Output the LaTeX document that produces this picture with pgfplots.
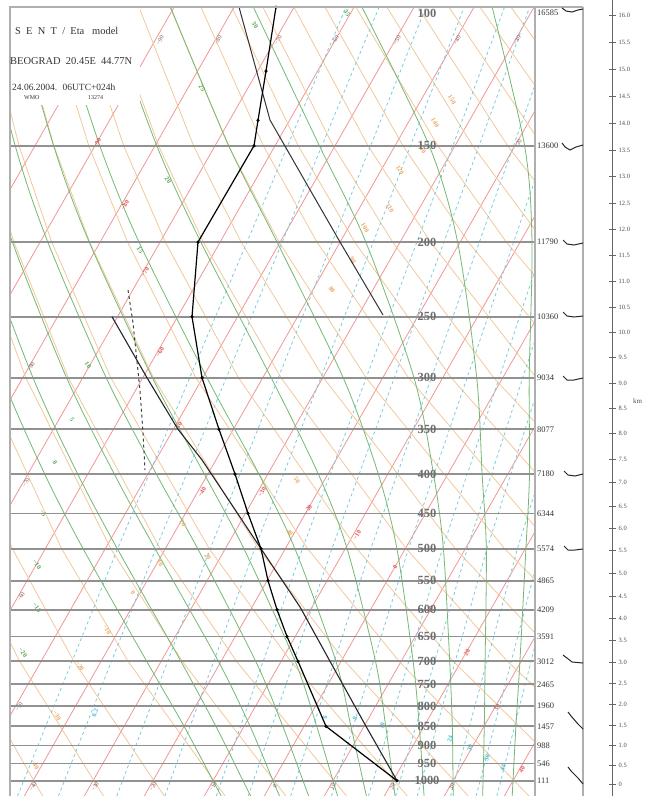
\documentclass[border=0pt]{standalone}
\usepackage{pgfplots}
\pgfplotsset{compat=1.18}
\usepackage{fontspec}
\setmainfont{Liberation Serif}
\definecolor{isoT}{RGB}{240,150,150}
\definecolor{dryA}{RGB}{242,200,155}
\definecolor{moistA}{RGB}{115,185,115}
\definecolor{mixR}{RGB}{120,205,220}
\definecolor{presL}{RGB}{145,145,145}
\definecolor{frameC}{RGB}{175,175,175}
\definecolor{labT}{RGB}{125,85,85}
\definecolor{labR}{RGB}{225,90,90}
\definecolor{labO}{RGB}{235,165,95}
\definecolor{labG}{RGB}{85,165,85}
\definecolor{labC}{RGB}{70,190,205}
\definecolor{labP}{RGB}{110,110,110}
\begin{document}
\begin{tikzpicture}
% ================= main diagram (x = pixel, y = pressure hPa) =================
\begin{axis}[at={(10bp,0bp)}, anchor=south west, scale only axis,
  width=525bp, height=789bp, xmin=10, xmax=535,
  ymode=log, ymin=99.1, ymax=1046.8, y dir=reverse,
  axis lines=none, unbounded coords=jump, clip=true]
% isotherms (every 10 C)
\addplot[isoT, line width=0.8bp] coordinates {
(-395.7,1046.8) (54.1,99.1) (0,nan)
(-335.7,1046.8) (114.1,99.1) (0,nan)
(-275.7,1046.8) (174.1,99.1) (0,nan)
(-215.7,1046.8) (234.1,99.1) (0,nan)
(-155.7,1046.8) (294.1,99.1) (0,nan)
(-95.7,1046.8) (354.1,99.1) (0,nan)
(-35.7,1046.8) (414.1,99.1) (0,nan)
(24.3,1046.8) (474.1,99.1) (0,nan)
(84.3,1046.8) (534.1,99.1) (0,nan)
(144.3,1046.8) (594.1,99.1) (0,nan)
(204.3,1046.8) (654.1,99.1) (0,nan)
(264.3,1046.8) (714.1,99.1) (0,nan)
(324.3,1046.8) (774.1,99.1) (0,nan)
(384.3,1046.8) (834.1,99.1) (0,nan)
(444.3,1046.8) (894.1,99.1) (0,nan)
(504.3,1046.8) (954.1,99.1)};
% dry adiabats
\addplot[dryA, line width=0.8bp] coordinates {
(42.7,1046.8) (-34.5,700) (-86.1,500) (-144.4,300) (-175.6,200) (-190.4,150) (-202.1,99.1) (0,nan)
(103.5,1046.8) (19.7,700) (-36.8,500) (-101.9,300) (-137.7,200) (-155.5,150) (-171.1,99.1) (0,nan)
(164.3,1046.8) (73.9,700) (12.4,500) (-59.3,300) (-99.8,200) (-120.6,150) (-140.1,99.1) (0,nan)
(225.1,1046.8) (128.1,700) (61.6,500) (-16.8,300) (-62.0,200) (-85.6,150) (-109.1,99.1) (0,nan)
(285.9,1046.8) (182.3,700) (110.8,500) (25.8,300) (-24.1,200) (-50.7,150) (-78.1,99.1) (0,nan)
(346.6,1046.8) (236.5,700) (160.1,500) (68.3,300) (13.8,200) (-15.9,150) (-47.1,99.1) (0,nan)
(407.4,1046.8) (290.7,700) (209.3,500) (110.8,300) (51.7,200) (19.0,150) (-16.1,99.1) (0,nan)
(468.2,1046.8) (344.9,700) (258.5,500) (153.4,300) (89.6,200) (53.9,150) (14.9,99.1) (0,nan)
(529.0,1046.8) (399.1,700) (307.7,500) (195.9,300) (127.5,200) (88.8,150) (45.9,99.1) (0,nan)
(589.8,1046.8) (453.3,700) (356.9,500) (238.5,300) (165.3,200) (123.7,150) (76.9,99.1) (0,nan)
(650.6,1046.8) (507.5,700) (406.2,500) (281.0,300) (203.2,200) (158.6,150) (107.9,99.1) (0,nan)
(711.4,1046.8) (561.6,700) (455.4,500) (323.5,300) (241.1,200) (193.5,150) (138.9,99.1) (0,nan)
(772.2,1046.8) (615.8,700) (504.6,500) (366.1,300) (279.0,200) (228.4,150) (169.9,99.1) (0,nan)
(833.0,1046.8) (670.0,700) (553.8,500) (408.6,300) (316.9,200) (263.3,150) (200.9,99.1) (0,nan)
(893.8,1046.8) (724.2,700) (603.0,500) (451.2,300) (354.7,200) (298.2,150) (231.9,99.1) (0,nan)
(954.5,1046.8) (778.4,700) (652.3,500) (493.7,300) (392.6,200) (333.1,150) (262.9,99.1) (0,nan)
(1015.3,1046.8) (832.6,700) (701.5,500) (536.2,300) (430.5,200) (368.0,150) (293.9,99.1) (0,nan)
(1076.1,1046.8) (886.8,700) (750.7,500) (578.8,300) (468.4,200) (402.9,150) (324.9,99.1) (0,nan)
(1136.9,1046.8) (941.0,700) (799.9,500) (621.3,300) (506.3,200) (437.8,150) (355.9,99.1) (0,nan)
(1197.7,1046.8) (995.2,700) (849.1,500) (663.9,300) (544.1,200) (472.7,150) (386.9,99.1) (0,nan)
(1258.5,1046.8) (1049.4,700) (898.4,500) (706.4,300) (582.0,200) (507.6,150) (417.9,99.1) (0,nan)
(1319.3,1046.8) (1103.6,700) (947.6,500) (748.9,300) (619.9,200) (542.5,150) (448.9,99.1) (0,nan)
(1380.1,1046.8) (1157.7,700) (996.8,500) (791.5,300) (657.8,200) (577.3,150) (479.9,99.1) (0,nan)
(1440.9,1046.8) (1211.9,700) (1046.0,500) (834.0,300) (695.6,200) (612.2,150) (510.9,99.1)};
% mixing ratio lines
\addplot[mixR, line width=0.8bp, dashed] coordinates {
(17.5,1046.8) (117.6,500) (346.1,99.1) (0,nan)
(58.4,1046.8) (155.8,500) (379.1,99.1) (0,nan)
(116.8,1046.8) (210.2,500) (425.9,99.1) (0,nan)
(164.8,1046.8) (254.7,500) (464.1,99.1) (0,nan)
(216.3,1046.8) (302.4,500) (504.6,99.1) (0,nan)
(248.3,1046.8) (331.9,500) (529.7,99.1) (0,nan)
(290.6,1046.8) (370.8,500) (562.6,99.1) (0,nan)
(331.5,1046.8) (408.5,500) (594.2,99.1) (0,nan)
(368.5,1046.8) (442.4,500) (622.6,99.1) (0,nan)
(395.6,1046.8) (467.2,500) (643.3,99.1) (0,nan)
(417.2,1046.8) (487.0,500) (659.7,99.1) (0,nan)
(450.6,1046.8) (517.4,500) (685.0,99.1) (0,nan)
(476.1,1046.8) (540.7,500) (704.3,99.1) (0,nan)
(496.9,1046.8) (559.5,500) (719.8,99.1)};
% moist adiabats
\addplot[moistA, line width=0.8bp, smooth] coordinates {
(221.2,1046.8) (213.0,1000) (184.1,850) (146.7,700) (83.1,500) (44.7,400) (2.4,300) (-45.2,200) (-70.1,150) (-95.3,99.1)};
\addplot[moistA, line width=0.8bp, smooth] coordinates {
(250.7,1046.8) (243.0,1000) (215.9,850) (180.9,700) (117.3,500) (77.7,400) (33.0,300) (-17.6,200) (-45.1,150) (-73.1,99.1)};
\addplot[moistA, line width=0.8bp, smooth] coordinates {
(279.5,1046.8) (273.0,1000) (250.1,850) (218.4,700) (155.1,500) (114.3,400) (66.6,300) (12.4,200) (-17.3,150) (-47.9,99.1)};
\addplot[moistA, line width=0.8bp, smooth] coordinates {
(308.7,1046.8) (303.0,1000) (282.8,850) (255.7,700) (197.7,500) (156.3,400) (106.2,300) (47.8,200) (15.2,150) (-19.1,99.1)};
\addplot[moistA, line width=0.8bp, smooth] coordinates {
(337.6,1046.8) (333.0,1000) (316.7,850) (295.1,700) (243.9,500) (204.3,400) (152.4,300) (89.2,200) (53.6,150) (14.5,99.1)};
\addplot[moistA, line width=0.8bp, smooth] coordinates {
(366.4,1046.8) (363.0,1000) (350.9,850) (335.9,700) (294.9,500) (258.9,400) (207.0,300) (139.0,200) (99.8,150) (55.3,99.1)};
\addplot[moistA, line width=0.8bp, smooth] coordinates {
(395.1,1046.8) (393.0,1000) (385.7,850) (375.5,700) (347.1,500) (318.3,400) (271.2,300) (200.8,200) (156.8,150) (106.3,99.1)};
\addplot[moistA, line width=0.8bp, smooth] coordinates {
(424.1,1046.8) (423.0,1000) (419.3,850) (413.1,700) (396.9,500) (378.3,400) (343.2,300) (277.0,200) (228.8,150) (170.5,99.1)};
\addplot[moistA, line width=0.8bp, smooth] coordinates {
(453.3,1046.8) (453.0,1000) (452.3,850) (449.7,700) (443.4,500) (433.5,400) (414.0,300) (365.8,200) (319.4,150) (253.3,99.1)};
\addplot[moistA, line width=0.8bp, smooth] coordinates {
(482.7,1046.8) (483.0,1000) (484.3,850) (485.1,700) (486.3,500) (482.1,400) (476.7,300) (457.6,200) (429.2,150) (361.9,99.1)};
\addplot[moistA, line width=0.8bp, smooth] coordinates {
(512.2,1046.8) (513.0,1000) (515.9,850) (519.9,700) (525.9,500) (529.5,400) (529.2,300) (532.0,200) (524.6,150) (492.1,99.1)};
% line labels: isotherms
\begin{scope}[every node/.style={rotate=60, text=labT, font=\fontsize{6}{6}\selectfont, inner sep=0bp}]
\node at (axis cs:160,109.4) {−90};
\node at (axis cs:218,109.4) {−80};
\node at (axis cs:278,109.4) {−70};
\node at (axis cs:335,109.4) {−60};
\node at (axis cs:397,109.4) {−50};
\node at (axis cs:457,109.4) {−40};
\node at (axis cs:517,109.4) {−30};
\node at (axis cs:518,149) {−20};
\node at (axis cs:31,290.4) {−80};
\node at (axis cs:26,410.7) {−70};
\node at (axis cs:21,577) {−60};
\node at (axis cs:19,801.7) {−50};
\node at (axis cs:33,1018) {−40};
\node at (axis cs:95,1018) {−30};
\node at (axis cs:153,1018) {−20};
\node at (axis cs:213,1018) {−10};
\node at (axis cs:275,1018) {0};
\node at (axis cs:333,1018) {10};
\node at (axis cs:393,1018) {20};
\node at (axis cs:452,1018) {30};
\end{scope}
\begin{scope}[every node/.style={rotate=60, text=labR, font=\fontsize{6.5}{6.5}\bfseries\selectfont, inner sep=0bp}]
\node at (axis cs:97,148.8) {−90};
\node at (axis cs:125,179) {−80};
\node at (axis cs:145,218.7) {−70};
\node at (axis cs:160,277.7) {−60};
\node at (axis cs:178,347.5) {−50};
\node at (axis cs:202,422) {−40};
\node at (axis cs:262,422) {−30};
\node at (axis cs:308,445) {−20};
\node at (axis cs:357,480) {−10};
\node at (axis cs:395,528) {0};
\node at (axis cs:430,600) {10};
\node at (axis cs:467,682) {20};
\node at (axis cs:497,804) {30};
\node at (axis cs:522,968) {40};
\end{scope}
% line labels: dry adiabats
\begin{scope}[every node/.style={rotate=-58, text=labO, font=\fontsize{6.5}{6.5}\bfseries\selectfont, inner sep=0bp}]
\node at (axis cs:452,130.8) {150};
\node at (axis cs:435,140.1) {140};
\node at (axis cs:422,151.3) {130};
\node at (axis cs:400,161.3) {120};
\node at (axis cs:390,180.7) {110};
\node at (axis cs:365,191.8) {100};
\node at (axis cs:353,211.1) {90};
\node at (axis cs:332,230.7) {80};
\node at (axis cs:297,407.1) {50};
\node at (axis cs:290,476.8) {40};
\node at (axis cs:183,463.5) {20};
\node at (axis cs:208,512.3) {20};
\node at (axis cs:160,522.1) {10};
\node at (axis cs:133,570.6) {0};
\node at (axis cs:107,636.4) {−10};
\node at (axis cs:80,710.3) {−20};
\node at (axis cs:57,822.7) {−30};
\node at (axis cs:35,954) {−40};
\end{scope}
% line labels: moist adiabats
\begin{scope}[every node/.style={rotate=-55, text=labG, font=\fontsize{6.5}{6.5}\bfseries\selectfont, inner sep=0bp}]
\node at (axis cs:347,100.9) {35};
\node at (axis cs:255,104.6) {30};
\node at (axis cs:202,126.2) {25};
\node at (axis cs:168,166.2) {20};
\node at (axis cs:140,204.7) {15};
\node at (axis cs:88,288.8) {10};
\node at (axis cs:72,340.3) {5};
\node at (axis cs:55,386.9) {0};
\node at (axis cs:43,449.2) {−5};
\node at (axis cs:37,524.7) {−10};
\node at (axis cs:37,596.6) {−15};
\node at (axis cs:23,682.4) {−20};
\end{scope}
% line labels: mixing ratio
\begin{scope}[every node/.style={rotate=75, text=labC, font=\fontsize{6.5}{6.5}\bfseries\selectfont, inner sep=0bp}]
\node at (axis cs:95,816.7) {0.2};
\node at (axis cs:325,828.6) {6};
\node at (axis cs:355,831.1) {8};
\node at (axis cs:382,848.6) {10};
\node at (axis cs:450,882.5) {24};
\node at (axis cs:470,906.5) {30};
\node at (axis cs:487,934.1) {36};
\node at (axis cs:503,962.6) {44};
\end{scope}
% pressure levels
\pgfplotsinvokeforeach{150,200,250,300,350,400,450,500,550,600,650,700,750,800,850,900,950,1000}{
  \addplot[presL, line width=1.8bp] coordinates {(0,#1) (600,#1)};
}
% pressure labels
\begin{scope}[every node/.style={text=labP, font=\fontsize{12.5}{12.5}\bfseries\selectfont, inner sep=0bp}]
\node at (axis cs:427,101) {100};
\node at (axis cs:427,150) {150};
\node at (axis cs:427,200) {200};
\node at (axis cs:427,250) {250};
\node at (axis cs:427,300) {300};
\node at (axis cs:427,350) {350};
\node at (axis cs:427,400) {400};
\node at (axis cs:427,450) {450};
\node at (axis cs:427,500) {500};
\node at (axis cs:427,550) {550};
\node at (axis cs:427,600) {600};
\node at (axis cs:427,650) {650};
\node at (axis cs:427,700) {700};
\node at (axis cs:427,750) {750};
\node at (axis cs:427,800) {800};
\node at (axis cs:427,850) {850};
\node at (axis cs:427,900) {900};
\node at (axis cs:427,950) {950};
\node at (axis cs:427,1000) {1000};
\end{scope}
% sounding lines
\addplot[black!75, line width=1bp, dashed] coordinates {(128,230.8) (133,254.7) (140,311.6) (143,353.7) (145,395.3)};
\addplot[black!80, line width=1bp] coordinates {(239,99.1) (270,138.9) (340,200) (383,248.7)};
\addplot[black!85, line width=1.1bp] coordinates {(112,250) (147,300) (178,350) (202,383.5) (261,500) (300,595) (330,700) (366,850) (397,1000)};
\addplot[black, line width=1.2bp, mark=*, mark size=0.9bp] coordinates {
(397,1000) (326,850) (298,700) (287,650) (277,600) (268,550) (261,500) (248,450) (235,400) (219,350) (202,300) (192,250) (198,200) (254,150) (258,139) (266,120) (276,99.1)};
\end{axis}
% ================= overlay (pixel coordinates) =================
\begin{axis}[at={(0bp,0bp)}, anchor=south west, scale only axis,
  width=657bp, height=796bp, xmin=0, xmax=657, ymin=0, ymax=796, y dir=reverse,
  axis lines=none, clip=false]
\fill[white] (axis cs:11,8) rectangle (axis cs:140,105);
\addplot[frameC, line width=1.8bp] coordinates {(10,796) (10,7) (583,7)};
\addplot[frameC, line width=2.5bp] coordinates {(535,7) (535,796)};
\addplot[frameC, line width=2.5bp] coordinates {(583,7) (583,796)};
\begin{scope}[every node/.style={anchor=west, font=\fontsize{10.5}{10.5}\selectfont, inner sep=0bp, text=black!80}]
\node at (axis cs:15,31) {S \ E \ N \ T \ / \ Eta \ \ model};
\node at (axis cs:10,61) {BEOGRAD \ 20.45E \ 44.77N};
\node[font=\fontsize{9.5}{10}\selectfont] at (axis cs:12,87) {24.06.2004. \ 06UTC+024h};
\node[font=\fontsize{6}{6}\selectfont] at (axis cs:24,98) {WMO};
\node[font=\fontsize{6}{6}\selectfont] at (axis cs:88,98) {13274};
\end{scope}
% height labels
\begin{scope}[every node/.style={anchor=west, font=\fontsize{8.5}{9}\selectfont, inner sep=0bp, text=black!80}]
\node at (axis cs:537,13) {16585};
\node at (axis cs:537,145.8) {13600};
\node at (axis cs:537,242.1) {11790};
\node at (axis cs:537,316.8) {10360};
\node at (axis cs:537,377.8) {9034};
\node at (axis cs:537,429.4) {8077};
\node at (axis cs:537,474.1) {7180};
\node at (axis cs:537,513.6) {6344};
\node at (axis cs:537,548.8) {5574};
\node at (axis cs:537,580.7) {4865};
\node at (axis cs:537,609.9) {4209};
\node at (axis cs:537,636.7) {3591};
\node at (axis cs:537,661.5) {3012};
\node at (axis cs:537,684.6) {2465};
\node at (axis cs:537,706.2) {1960};
\node at (axis cs:537,726.5) {1457};
\node at (axis cs:537,745.6) {988};
\node at (axis cs:537,763.7) {546};
\node at (axis cs:537,780.9) {111};
\end{scope}
\node[anchor=west, font=\fontsize{7}{7}\selectfont, text=black!70, inner sep=0bp] at (axis cs:633,401) {km};
% wind barbs
\addplot[black!85, line width=1bp] coordinates {(562,8) (566,11) (572,12) (578,10) (583,9)};
\addplot[black!85, line width=1bp] coordinates {(562,143) (565,147) (570,150) (576,147) (583,145)};
\addplot[black!85, line width=1bp] coordinates {(563,240) (567,244) (574,245) (583,243)};
\addplot[black!85, line width=1bp] coordinates {(563,312) (567,316) (574,317) (583,316)};
\addplot[black!85, line width=1bp] coordinates {(563,376) (567,380) (574,380) (583,378)};
\addplot[black!85, line width=1bp] coordinates {(564,471) (568,475) (575,476) (583,474)};
\addplot[black!85, line width=1bp] coordinates {(564,546) (568,550) (575,550) (583,549)};
\addplot[black!85, line width=1bp] coordinates {(563,655) (567,658) (572,662) (583,663)};
\addplot[black!85, line width=1bp] coordinates {(568,712) (571,716) (578,724) (583,729)};
\addplot[black!85, line width=1bp] coordinates {(568,767) (571,771) (578,778) (583,784)};
\end{axis}
% ================= height scale (km) =================
\begin{axis}[at={(600bp,0bp)}, anchor=south west, scale only axis,
  width=12bp, height=796bp, xmin=0, xmax=1, ymin=0, ymax=796, y dir=reverse,
  axis x line=none, axis y line=right, axis line style={black!60, -},
  tick align=center, major tick length=7bp, ytick style={black!60},
  ytick={784,765,745,725,704,683,662,640,618,596,573,550,528,506,482,459,433,408,383,357,332,307,281,255,229,203,176,150,123,96,69,42,15},
  yticklabels={0,0.5,1.0,1.5,2.0,2.5,3.0,3.5,4.0,4.5,5.0,5.5,6.0,6.5,7.0,7.5,8.0,8.5,9.0,9.5,10.0,10.5,11.0,11.5,12.0,12.5,13.0,13.5,14.0,14.5,15.0,15.5,16.0},
  yticklabel style={font=\fontsize{6.5}{7}\selectfont, text=black!70, inner sep=3bp}]
\end{axis}
\pgfresetboundingbox
\path (0bp,0bp) rectangle (657bp,796bp);
\end{tikzpicture}
\end{document}
